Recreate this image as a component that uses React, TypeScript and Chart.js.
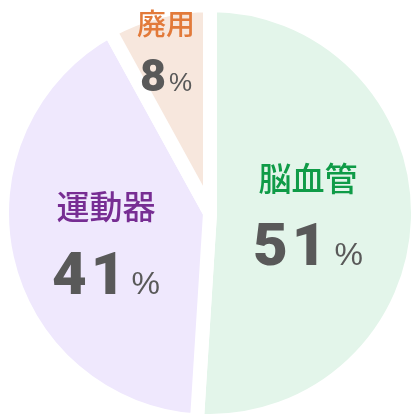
import React, { useEffect, useRef } from "react";
import { Chart, registerables } from "chart.js";

Chart.register(...registerables);

// ---- data ----
const categories = ["脳血管", "運動器", "廃用"];
const shares = [51, 41, 8];
const percentSuffix = "%";

// ---- styles ----
const sliceColors = ["#e3f5ea", "#efe8fd", "#f7e7dd"];
const nameColors = ["#0f9b47", "#772d93", "#e27a3a"];
const numberColor = "#595959";
const labelRadius = [0.471, 0.512, 0.85];
const labelShiftY = [5.5, 14, 15.8];
const nameSizes = [33, 33, 29];
const numSizes = [60, 60, 45];
const numSpacing = [4, 4, 0];
const pctSizes = [32, 32, 26];
const blockHalf = [43.5, 43.5, 33.5];
const pctGap = [4, 2, 3];

const numFont = (i: number) =>
  `900 ${numSizes[i]}px Roboto, "Liberation Sans", sans-serif`;
const pctFont = (i: number) =>
  `400 ${pctSizes[i]}px "Liberation Sans", Arial, sans-serif`;

const labelPlugin = {
  id: "sliceLabels",
  afterDatasetsDraw(chart: any) {
    const ctx = chart.ctx as CanvasRenderingContext2D;
    const meta = chart.getDatasetMeta(0);
    meta.data.forEach((arc: any, i: number) => {
      const { x, y, startAngle, endAngle, outerRadius } = arc.getProps(
        ["x", "y", "startAngle", "endAngle", "outerRadius"],
        true
      );
      const mid = (startAngle + endAngle) / 2;
      const px = x + Math.cos(mid) * outerRadius * labelRadius[i];
      const py = y + Math.sin(mid) * outerRadius * labelRadius[i] + labelShiftY[i];
      ctx.save();
      // category name
      ctx.font = `500 ${nameSizes[i]}px "Noto Sans CJK JP", "Noto Sans", sans-serif`;
      ctx.fillStyle = nameColors[i];
      ctx.textAlign = "center";
      ctx.textBaseline = "middle";
      ctx.fillText(categories[i], px, py - blockHalf[i]);
      // number + percent
      const numText = String(shares[i]);
      ctx.textAlign = "left";
      ctx.textBaseline = "alphabetic";
      (ctx as any).letterSpacing = `${numSpacing[i]}px`;
      ctx.font = numFont(i);
      const w1 = ctx.measureText(numText).width;
      (ctx as any).letterSpacing = "0px";
      ctx.font = pctFont(i);
      const w2 = ctx.measureText(percentSuffix).width;
      const total = w1 + pctGap[i] + w2;
      const sx = px - total / 2;
      const by = py + blockHalf[i];
      ctx.fillStyle = numberColor;
      (ctx as any).letterSpacing = `${numSpacing[i]}px`;
      ctx.font = numFont(i);
      ctx.fillText(numText, sx, by);
      (ctx as any).letterSpacing = "0px";
      ctx.font = pctFont(i);
      ctx.fillText(percentSuffix, sx + w1 + pctGap[i], by);
      ctx.restore();
    });
  },
};

export default function App() {
  const canvasRef = useRef<HTMLCanvasElement | null>(null);

  useEffect(() => {
    if (!canvasRef.current) return;
    const chart = new Chart(canvasRef.current, {
      type: "pie",
      data: {
        labels: categories,
        datasets: [
          {
            data: shares,
            backgroundColor: sliceColors,
            hoverBackgroundColor: sliceColors,
            borderColor: "#ffffff",
            hoverBorderColor: "#ffffff",
            borderWidth: 14,
            hoverBorderWidth: 14,
            offset: 0,
            hoverOffset: 0,
            radius: 208,
          } as any,
        ],
      },
      options: {
        animation: false,
        responsive: true,
        maintainAspectRatio: false,
        events: [],
        layout: { padding: 0 },
        plugins: {
          legend: { display: false },
          tooltip: { enabled: false },
        },
      },
      plugins: [labelPlugin],
    });
    return () => chart.destroy();
  }, []);

  return (
    <div
      style={{
        position: "fixed",
        left: 0,
        top: 0,
        width: 420,
        height: 426,
        background: "#ffffff",
      }}
    >
      <canvas ref={canvasRef} />
    </div>
  );
}
